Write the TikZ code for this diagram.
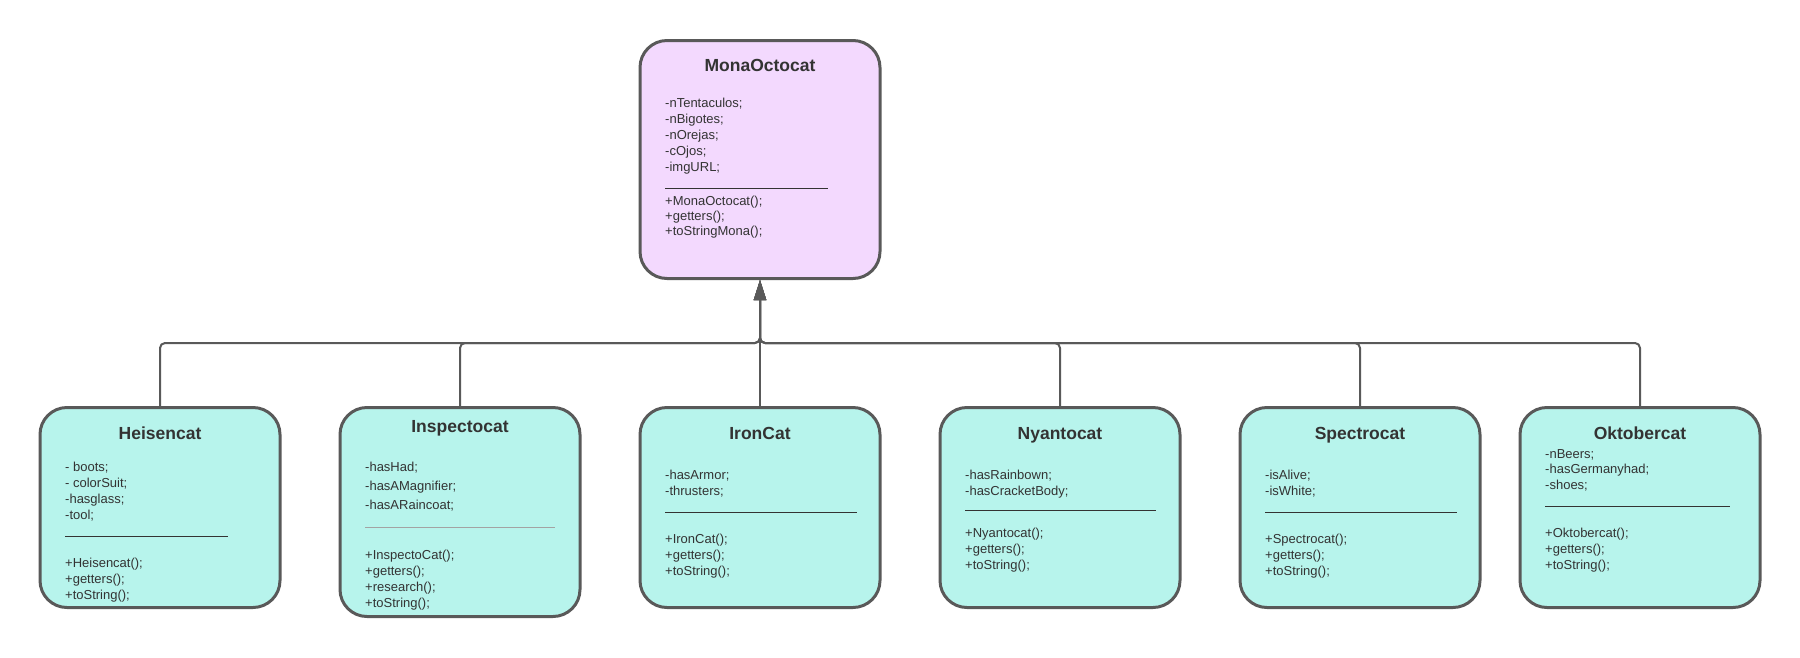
\documentclass[tikz,border=0pt]{standalone}
\usepackage{fontspec}
\setmainfont{Liberation Sans}
\usetikzlibrary{arrows.meta}
\definecolor{edge}{HTML}{595959}
\definecolor{ink}{HTML}{333333}
\definecolor{pinkfill}{HTML}{F3D9FE}
\definecolor{mintfill}{HTML}{B7F4EC}
\begin{document}
\begin{tikzpicture}[x=1pt,y=-1pt,line join=round,
  catbox/.style={draw=edge,line width=3pt,rounded corners=27pt,fill=mintfill,minimum width=240pt,minimum height=200pt,inner sep=0pt},
  cattitle/.style={anchor=base,text=ink,font=\fontsize{17.5}{20}\selectfont\bfseries},
  member/.style={anchor=base west,inner sep=0pt,text=ink,font=\fontsize{13}{16}\selectfont},
  divider/.style={draw=ink,line width=1pt},
  inherit/.style={draw=edge,line width=2pt,rounded corners=5pt,-{Triangle[width=12pt,length=20pt]}}]
\useasboundingbox (0,0) rectangle (1800,657);
% clase padre
\node[catbox,fill=pinkfill,minimum height=238pt] (mona) at (760,159.5) {};
\node[cattitle] (mona-t) at (760,71) {MonaOctocat};
\foreach \t [count=\i from 0] in {-nTentaculos;,-nBigotes;,-nOrejas;,-cOjos;,-imgURL;}
  \node[member] (mona-a\i) at (665,107+16*\i) {\t};
\draw[divider] (665,188) -- (828,188);
\foreach \t [count=\i from 0] in {+MonaOctocat();,+getters();,+toStringMona();}
  \node[member] (mona-m\i) at (665,205+15*\i) {\t};
% Heisencat
\node[catbox] (heis) at (160,507.5) {};
\node[cattitle] (heis-t) at (160,439) {Heisencat};
\foreach \t [count=\i from 0] in {- boots;,- colorSuit;,-hasglass;,-tool;}
  \node[member] (heis-a\i) at (65,471+16*\i) {\t};
\draw[divider] (65,536) -- (228,536);
\foreach \t [count=\i from 0] in {+Heisencat();,+getters();,+toString();}
  \node[member] (heis-m\i) at (65,567+16*\i) {\t};
% Inspectocat
\node[catbox,minimum height=209pt] (insp) at (460,512) {};
\node[cattitle] (insp-t) at (460,432) {Inspectocat};
\foreach \t [count=\i from 0] in {-hasHad;,-hasAMagnifier;,-hasARaincoat;}
  \node[member] (insp-a\i) at (365,471+19*\i) {\t};
\draw[divider,draw=ink!45] (365,527) -- (555,527);
\foreach \t [count=\i from 0] in {+InspectoCat();,+getters();,+research();,+toString();}
  \node[member] (insp-m\i) at (365,559+16*\i) {\t};
% IronCat
\node[catbox] (iron) at (760,507.5) {};
\node[cattitle] (iron-t) at (760,439) {IronCat};
\foreach \t [count=\i from 0] in {-hasArmor;,-thrusters;}
  \node[member] (iron-a\i) at (665,479+16*\i) {\t};
\draw[divider] (665,512) -- (857,512);
\foreach \t [count=\i from 0] in {+IronCat();,+getters();,+toString();}
  \node[member] (iron-m\i) at (665,543+16*\i) {\t};
% Nyantocat
\node[catbox] (nyan) at (1060,507.5) {};
\node[cattitle] (nyan-t) at (1060,439) {Nyantocat};
\foreach \t [count=\i from 0] in {-hasRainbown;,-hasCracketBody;}
  \node[member] (nyan-a\i) at (965,479+16*\i) {\t};
\draw[divider] (965,510) -- (1156,510);
\foreach \t [count=\i from 0] in {+Nyantocat();,+getters();,+toString();}
  \node[member] (nyan-m\i) at (965,537+16*\i) {\t};
% Spectrocat
\node[catbox] (spec) at (1360,507.5) {};
\node[cattitle] (spec-t) at (1360,439) {Spectrocat};
\foreach \t [count=\i from 0] in {-isAlive;,-isWhite;}
  \node[member] (spec-a\i) at (1265,479+16*\i) {\t};
\draw[divider] (1265,512) -- (1457,512);
\foreach \t [count=\i from 0] in {+Spectrocat();,+getters();,+toString();}
  \node[member] (spec-m\i) at (1265,543+16*\i) {\t};
% Oktobercat
\node[catbox] (okto) at (1640,507.5) {};
\node[cattitle] (okto-t) at (1640,439) {Oktobercat};
\foreach \t [count=\i from 0] in {-nBeers;,-hasGermanyhad;,-shoes;}
  \node[member] (okto-a\i) at (1545,458+15.5*\i) {\t};
\draw[divider] (1545,506) -- (1730,506);
\foreach \t [count=\i from 0] in {+Oktobercat();,+getters();,+toString();}
  \node[member] (okto-m\i) at (1545,537+16*\i) {\t};
% herencia
\coordinate (bus) at (760,343);
\foreach \c in {heis,insp,nyan,spec,okto}
  \draw[inherit] (\c.north) |- (bus) -- (mona.south);
\draw[inherit] (iron.north) -- (mona.south);
\end{tikzpicture}
\end{document}
